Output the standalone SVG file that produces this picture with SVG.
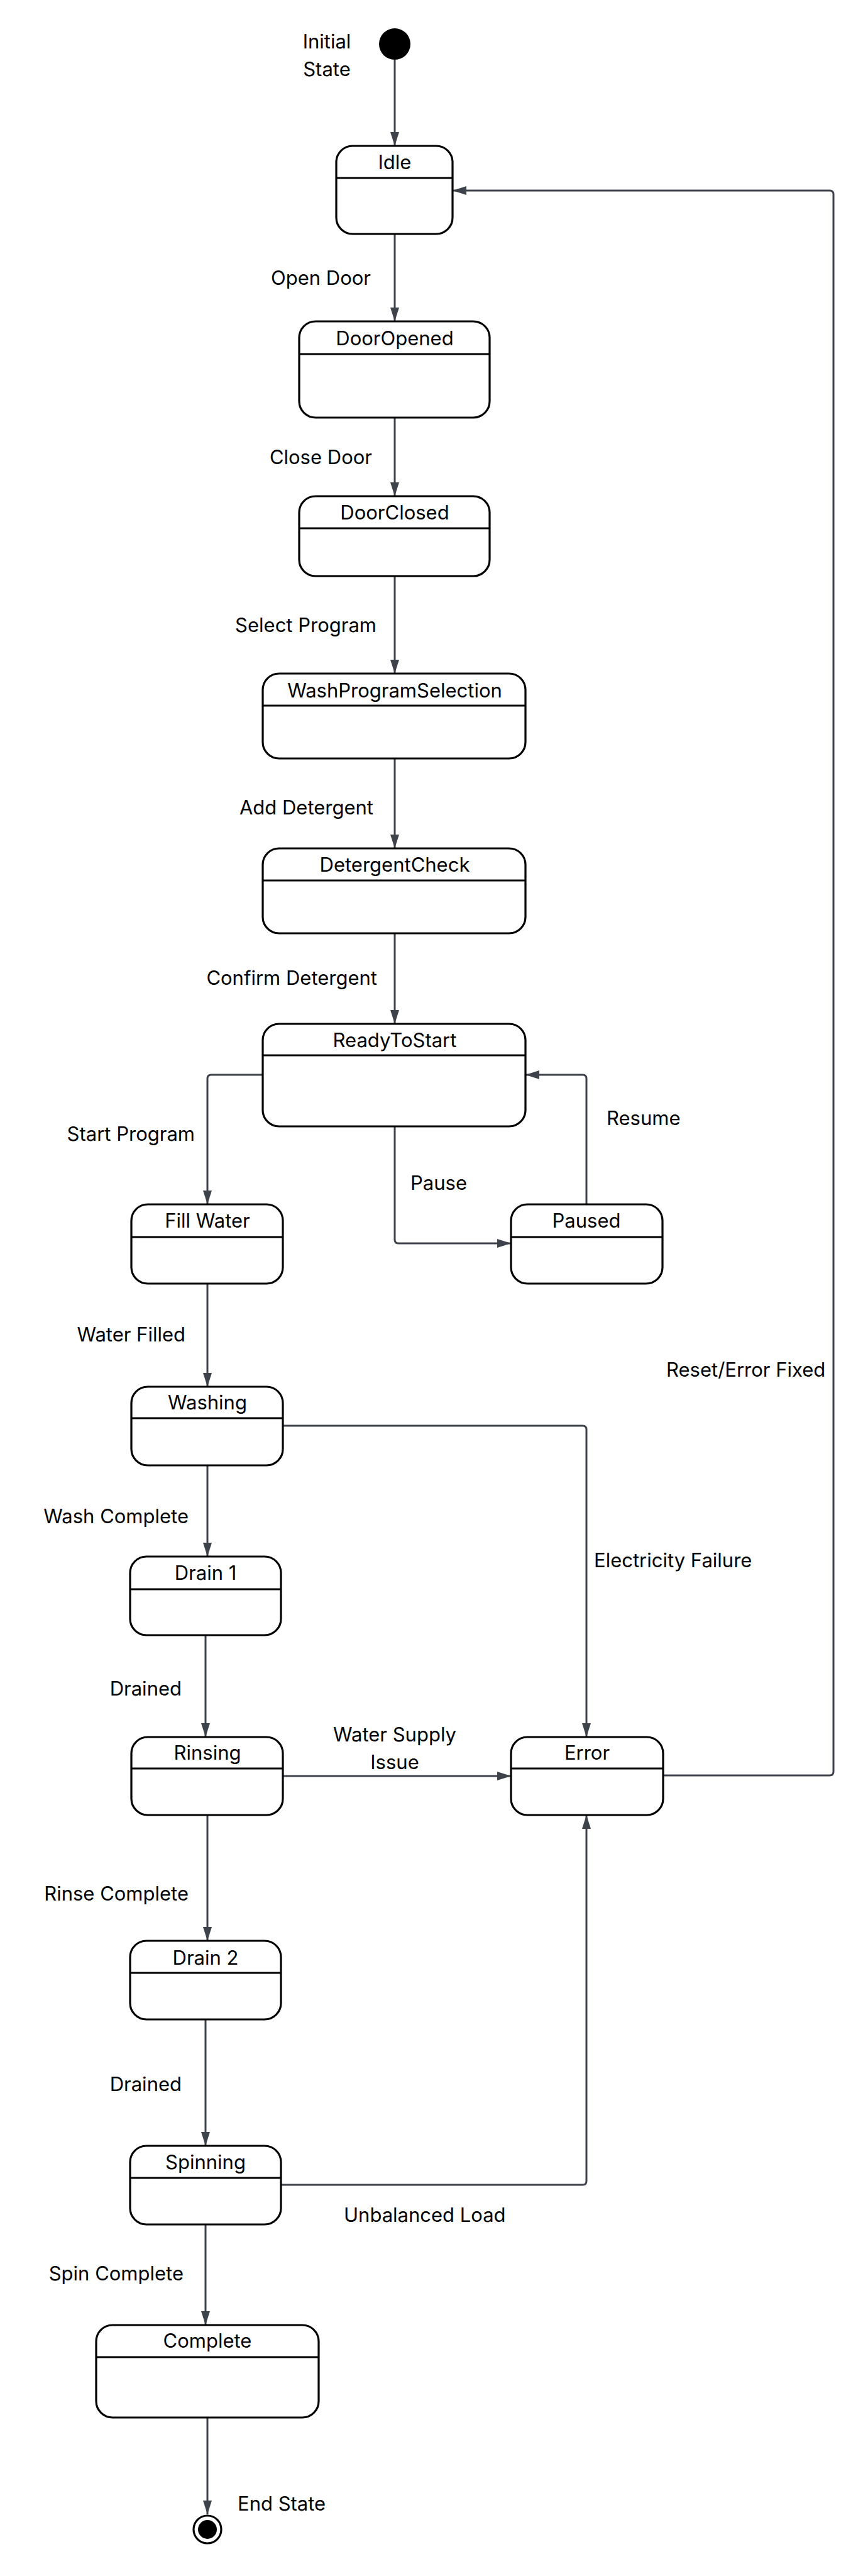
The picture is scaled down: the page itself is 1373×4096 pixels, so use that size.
<svg xmlns="http://www.w3.org/2000/svg" width="1373" height="4096" viewBox="0 0 1373 4096">
<style>
.n{fill:#fff;stroke:#000;stroke-width:3.2}
.d{stroke:#000;stroke-width:3.2}
.t{font-family:Inter,"Liberation Sans",sans-serif;font-size:31px;fill:#000}
.c{fill:none;stroke:#3d424b;stroke-width:3}
.m{text-anchor:middle}
.e{text-anchor:end}
</style>
<defs>
<marker id="a" markerUnits="userSpaceOnUse" markerWidth="23" markerHeight="15" refX="22" refY="7" orient="auto">
<path d="M0,0 L22,7 L0,14 z" fill="#3d424b"/>
</marker>
</defs>
<rect width="1373" height="4096" fill="#fff"/>
<g id="connectors">
<path class="c" marker-end="url(#a)" d="M628,95 V232"/>
<path class="c" marker-end="url(#a)" d="M628,372 V511"/>
<path class="c" marker-end="url(#a)" d="M628,664 V789"/>
<path class="c" marker-end="url(#a)" d="M628,916 V1071"/>
<path class="c" marker-end="url(#a)" d="M628,1206 V1349"/>
<path class="c" marker-end="url(#a)" d="M628,1484 V1628"/>
<path class="c" marker-end="url(#a)" d="M418,1709 H336 Q330,1709 330,1715 V1915"/>
<path class="c" marker-end="url(#a)" d="M628,1791 V1971 Q628,1977 634,1977 H813"/>
<path class="c" marker-end="url(#a)" d="M933,1915 V1715 Q933,1709 927,1709 H836"/>
<path class="c" marker-end="url(#a)" d="M330,2041 V2205"/>
<path class="c" marker-end="url(#a)" d="M450,2267 H927 Q933,2267 933,2273 V2762"/>
<path class="c" marker-end="url(#a)" d="M330,2330 V2475"/>
<path class="c" marker-end="url(#a)" d="M327,2600 V2762"/>
<path class="c" marker-end="url(#a)" d="M450,2824 H813"/>
<path class="c" marker-end="url(#a)" d="M1055,2823 H1320 Q1326,2823 1326,2817 V309 Q1326,303 1320,303 H720"/>
<path class="c" marker-end="url(#a)" d="M330,2886 V3086"/>
<path class="c" marker-end="url(#a)" d="M327,3211 V3412"/>
<path class="c" marker-end="url(#a)" d="M447,3474 H927 Q933,3474 933,3468 V2886"/>
<path class="c" marker-end="url(#a)" d="M327,3537 V3697"/>
<path class="c" marker-end="url(#a)" d="M330,3844 V3998"/>
</g>
<g id="labels">
<text class="t m" x="520" y="77">Initial</text>
<text class="t m" x="520" y="121">State</text>
<text class="t e" x="590" y="453">Open Door</text>
<text class="t e" x="592" y="738">Close Door</text>
<text class="t e" x="599" y="1005">Select Program</text>
<text class="t e" x="594" y="1295">Add Detergent</text>
<text class="t e" x="600" y="1566">Confirm Detergent</text>
<text class="t e" x="310" y="1814">Start Program</text>
<text class="t" x="653" y="1892">Pause</text>
<text class="t" x="965" y="1789">Resume</text>
<text class="t e" x="295" y="2133">Water Filled</text>
<text class="t" x="1060" y="2189">Reset/Error Fixed</text>
<text class="t e" x="300" y="2422">Wash Complete</text>
<text class="t" x="945" y="2492">Electricity Failure</text>
<text class="t e" x="289" y="2696">Drained</text>
<text class="t m" x="628" y="2769">Water Supply</text>
<text class="t m" x="628" y="2813">Issue</text>
<text class="t e" x="300" y="3022">Rinse Complete</text>
<text class="t e" x="289" y="3325">Drained</text>
<text class="t" x="547" y="3533">Unbalanced Load</text>
<text class="t e" x="292" y="3626">Spin Complete</text>
<text class="t" x="378" y="3992">End State</text>
</g>
<g id="initial"><circle cx="628" cy="70" r="25" fill="#000"/></g>
<g id="idle"><rect class="n" x="535" y="232" width="185" height="140" rx="26"/><line class="d" x1="535" y1="283" x2="720" y2="283"/><text class="t m" x="628" y="269">Idle</text></g>
<g id="dooropened"><rect class="n" x="476" y="511" width="303" height="153" rx="26"/><line class="d" x1="476" y1="563" x2="779" y2="563"/><text class="t m" x="628" y="549">DoorOpened</text></g>
<g id="doorclosed"><rect class="n" x="476" y="789" width="303" height="127" rx="26"/><line class="d" x1="476" y1="840" x2="779" y2="840"/><text class="t m" x="628" y="826">DoorClosed</text></g>
<g id="washprogramselection"><rect class="n" x="418" y="1071" width="418" height="135" rx="26"/><line class="d" x1="418" y1="1122" x2="836" y2="1122"/><text class="t m" x="628" y="1109">WashProgramSelection</text></g>
<g id="detergentcheck"><rect class="n" x="418" y="1349" width="418" height="135" rx="26"/><line class="d" x1="418" y1="1400" x2="836" y2="1400"/><text class="t m" x="628" y="1386">DetergentCheck</text></g>
<g id="readytostart"><rect class="n" x="418" y="1628" width="418" height="163" rx="26"/><line class="d" x1="418" y1="1678" x2="836" y2="1678"/><text class="t m" x="628" y="1665">ReadyToStart</text></g>
<g id="fillwater"><rect class="n" x="209" y="1915" width="241" height="126" rx="26"/><line class="d" x1="209" y1="1967" x2="450" y2="1967"/><text class="t m" x="330" y="1952">Fill Water</text></g>
<g id="paused"><rect class="n" x="813" y="1915" width="241" height="126" rx="26"/><line class="d" x1="813" y1="1967" x2="1054" y2="1967"/><text class="t m" x="933" y="1952">Paused</text></g>
<g id="washing"><rect class="n" x="209" y="2205" width="241" height="125" rx="26"/><line class="d" x1="209" y1="2255" x2="450" y2="2255"/><text class="t m" x="330" y="2241">Washing</text></g>
<g id="drain1"><rect class="n" x="207" y="2475" width="240" height="125" rx="26"/><line class="d" x1="207" y1="2527" x2="447" y2="2527"/><text class="t m" x="327" y="2512">Drain 1</text></g>
<g id="rinsing"><rect class="n" x="209" y="2762" width="241" height="124" rx="26"/><line class="d" x1="209" y1="2812" x2="450" y2="2812"/><text class="t m" x="330" y="2798">Rinsing</text></g>
<g id="error"><rect class="n" x="813" y="2762" width="242" height="124" rx="26"/><line class="d" x1="813" y1="2812" x2="1055" y2="2812"/><text class="t m" x="934" y="2798">Error</text></g>
<g id="drain2"><rect class="n" x="207" y="3086" width="240" height="125" rx="26"/><line class="d" x1="207" y1="3137" x2="447" y2="3137"/><text class="t m" x="327" y="3124">Drain 2</text></g>
<g id="spinning"><rect class="n" x="207" y="3412" width="240" height="125" rx="26"/><line class="d" x1="207" y1="3463" x2="447" y2="3463"/><text class="t m" x="327" y="3449">Spinning</text></g>
<g id="complete"><rect class="n" x="153" y="3697" width="354" height="147" rx="26"/><line class="d" x1="153" y1="3748" x2="507" y2="3748"/><text class="t m" x="330" y="3733">Complete</text></g>
<g id="end"><circle cx="330" cy="4022" r="22" fill="#fff" stroke="#000" stroke-width="3.2"/><circle cx="330" cy="4022" r="15" fill="#000"/></g>
</svg>
